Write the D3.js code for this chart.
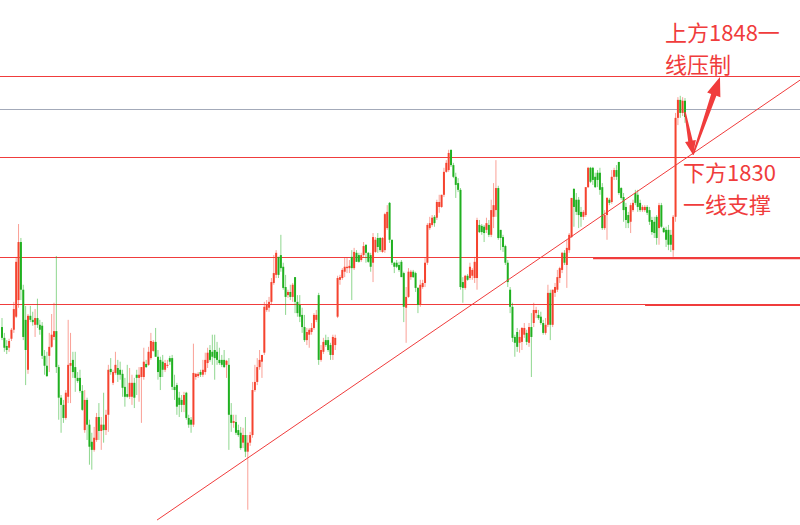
<!DOCTYPE html>
<html><head><meta charset="utf-8">
<script src="https://cdn.jsdelivr.net/npm/d3@7"></script>
<style>html,body{margin:0;padding:0;background:#fff;overflow:hidden}</style>
</head><body><svg id="c" width="800" height="525"></svg>
<script>
const opens = [1792.3,1789.9,1788.1,1787.7,1789.7,1791.7,1794.6,1798.3,1811.2,1800.6,1793.9,1782.8,1794.8,1793.9,1792.8,1794.3,1792.8,1792.6,1785.9,1783.7,1785.9,1787.9,1790.1,1791.4,1783.4,1776.6,1775,1772.1,1776.8,1783.7,1785,1783.4,1781,1781,1778.1,1769.4,1776.1,1770.6,1766.8,1765,1767.2,1772.3,1769.2,1770.6,1769.4,1772.8,1783,
1779.9,1782.1,1783.2,1782.8,1781.9,1779,1777.4,1776.8,1776.8,1779.9,1781.7,1781,1781.2,1781.2,1784.1,1783.9,1785.4,1787,1789,1785.7,1785,1784.6,1782.8,1783.7,1785.4,1785.4,1779,1779.4,1776.6,1776.1,1775,1777.7,1772.1,1771.7,1770.6,1781.2,1781.4,1782.3,1781.7,1782.3,1784.3,1787.2,1786.8,1787.2,1786.8,1785,1785,
1785,1783.9,1783.9,1772.8,1771,1771.2,1769.4,1768.8,1766.6,1768.3,1764.6,1766.6,1768.3,1778.3,1780.1,1783.4,1784.6,1786.6,1796.1,1796.6,1797.9,1802.1,1803.9,1807.9,1808.3,1805.7,1801.2,1799.4,1800.1,1799,1803.4,1797.9,1797.2,1795,1792.3,1789.4,1790.6,1791.2,1792.1,1793.9,1799.4,1785,1786.8,1789.4,1789.4,1788.3,1786.1,1788.3,
1794.6,1802.8,1803.2,1804.6,1805.4,1805.4,1807.9,1805.4,1808.8,1808.3,1807.2,1808.3,1810.6,1808.8,1808.3,1806.6,1809,1812.1,1812.1,1809,1809.4,1814.3,1819.9,1811.7,1806.6,1806.6,1806.1,1806.8,1804.3,1796.6,1799,1803.4,1804.6,1804.3,1801,1797.2,1801.2,1802.1,1806.6,1814.3,1815,1816.8,1816.6,1819,1819,1821.7,1826.8,1827.2,1831.7,1828.3,1825.7,
1824.3,1822.8,1802.3,1801,1803.7,1803.2,1803.7,1803.2,1803.2,1815,1814.8,1814.6,1813.9,1815,1812.8,1816.8,1818.3,1823.2,1813.9,1812.3,1810.3,1806.6,1800.6,1796.8,1790.1,1791.2,1788.8,1789,1790.6,1791,1788.8,1792.3,1793.2,1795.4,1795,1794.6,1793.2,1791,1792.8,1799.9,1792.8,1799.9,1800.6,1803.2,1805,1808.8,1806.1,1809.4,1812.3,
1823,1820.6,1820.6,1817.9,1816.8,1817.2,1823.4,1827.7,1827.7,1825.7,1826.6,1826.6,1823.4,1814.3,1817.2,1820.6,1820.1,1825.7,1827.2,1829,1823.2,1821.2,1819,1817.2,1815.7,1818.3,1822.1,1821.7,1819.9,1818.3,1818.3,1819,1818.3,1816.1,1815.7,1816.8,1814.3,1819.4,1814.3,1813.9,1813.9,1812.8,1809.4,1816.8,1838.8,1842.8,1839.9,1842.6];
const highs = [1794.3,1791,1789.4,1789.7,1792.1,1797.9,1807.9,1815.2,1812.1,1801.7,1797,1795.2,1797,1795.7,1796.3,1798.6,1793.9,1793.4,1787.2,1786.8,1791,1795.2,1797.7,1808.1,1783.9,1777.2,1776.1,1778.3,1793.9,1791,1786.8,1786.8,1782.3,1782.8,1779.4,1778.3,1776.6,1771.7,1768.8,1770.1,1773.2,1775.4,1772.3,1777.7,1773.9,1783.9,1785.4,
1782.8,1786.8,1785,1784.6,1782.8,1781,1783.9,1783.2,1781.7,1781,1782.8,1783.4,1783.4,1787.7,1785,1787.9,1791,1789.4,1792.1,1787.2,1785.7,1786.1,1785,1785,1785.9,1786.1,1781.7,1779.9,1777.9,1777.2,1777.9,1777.9,1772.8,1772.3,1788.6,1782.1,1782.3,1782.8,1785,1786.6,1787.7,1788.3,1790.6,1790.6,1789,1787.7,1786.1,
1787.2,1785,1785.4,1775.4,1772.8,1772.8,1770.6,1770.1,1769.9,1772.3,1768.3,1769,1780.1,1783.9,1785.4,1787.2,1786.1,1797.9,1798.3,1799,1803.2,1808.3,1809.4,1807.9,1812.8,1806.6,1803.9,1800.6,1801.7,1802.1,1803.4,1799.4,1799.4,1796.6,1795,1792.1,1792.1,1793.2,1795.4,1796.1,1799.9,1788.3,1789.9,1790.6,1790.1,1788.8,1790.6,1790.6,
1803.7,1803.9,1805.4,1807.7,1807.7,1807.2,1809.4,1809.9,1809.4,1808.8,1808.8,1811.2,1810.6,1809,1808.8,1813.2,1812.3,1813.2,1812.3,1812.3,1817.7,1819.4,1820.1,1811.7,1806.8,1807.2,1806.8,1807.2,1804.6,1801.2,1805.4,1805,1805,1804.6,1801.2,1802.8,1802.8,1807.7,1815.4,1816.8,1817.2,1817.2,1820.6,1821.7,1821.7,1827.7,1829.4,1831.7,1831.7,1828.8,1826.6,
1825.4,1823.2,1803.4,1803.9,1804.1,1806.6,1805.4,1807.9,1816.6,1816.1,1815.2,1815,1816.6,1816.1,1820.6,1824.3,1829.4,1823.7,1813.9,1812.8,1810.6,1807.2,1801.2,1797.7,1790.6,1792.1,1791.7,1792.3,1793.2,1791.7,1793.2,1795.4,1797.7,1796.8,1796.1,1795.7,1793.9,1794.3,1801.7,1800.6,1800.6,1802.1,1805,1805.7,1809,1809.4,1811.7,1813.2,1821,
1823.2,1822.1,1821.2,1819,1818.3,1823.4,1827.9,1827.9,1827.9,1826.6,1827.2,1827.7,1824.3,1818.3,1821.2,1821,1827.2,1827.7,1828.3,1829,1823.4,1822.1,1819.9,1817.9,1819.9,1820.6,1822.8,1822.8,1820.6,1819.4,1819.4,1819.4,1819,1816.8,1816.8,1817.2,1819.9,1819.9,1814.6,1814.6,1815,1813.9,1817.2,1839.9,1843.4,1843.7,1843.4,1843.2];
const lows = [1789.4,1786.8,1786.3,1786.8,1789.2,1791,1794.3,1796.6,1798.3,1789.4,1779.4,1781.9,1793.4,1792.6,1790.1,1792.1,1790.6,1785.2,1781.7,1781.2,1782.3,1787.7,1789.4,1782.1,1771.7,1768.8,1771,1771.7,1775.4,1775.4,1781,1777.9,1779.9,1777.7,1773.7,1768.8,1767.2,1761.7,1760.6,1764.6,1766.8,1767.2,1765,1766.6,1768.3,1769,1781.7,
1779.4,1781.7,1780.1,1780.6,1776.8,1774.6,1776.6,1776.3,1775,1774.3,1777.2,1775.7,1771,1780.6,1783.2,1783.7,1785,1786.8,1785.7,1780.6,1778.3,1781.2,1782.3,1783.2,1783.9,1778.3,1776.1,1772.8,1772.3,1773.4,1773.4,1771.7,1769.9,1768.8,1770.1,1780.6,1781,1781.2,1781.2,1781.7,1783.2,1784.6,1783.9,1780.6,1783.9,1783.9,1783.4,
1783.2,1781,1765,1769,1769.9,1768.3,1767.9,1765,1765.4,1763.4,1751.7,1765.9,1767.7,1777.9,1779.4,1782.8,1781,1786.1,1795.7,1795.7,1797.4,1801.7,1803.2,1803.2,1804.6,1800.6,1795,1798.8,1798.3,1797.9,1795.4,1794.6,1793.4,1791,1789,1788.3,1787.7,1790.6,1791.7,1793.4,1783.9,1784.6,1786.3,1787.9,1786.8,1785,1785,1787.2,
1794.3,1801.7,1802.8,1803.4,1804.3,1804.3,1798.3,1805,1806.8,1806.6,1806.8,1807.9,1806.6,1806.6,1804.6,1802.3,1808.8,1808.8,1809,1808.8,1808.8,1813.9,1811,1806.1,1804.3,1805.4,1804.6,1803.4,1793.4,1788.8,1798.8,1802.8,1803.2,1800.1,1795.4,1796.8,1800.8,1801.2,1806.1,1813.9,1814.6,1814.6,1816.1,1817.7,1818.8,1821.2,1826.6,1826.8,1827.9,1825.4,1821,
1822.3,1800.6,1797.7,1800.6,1802.6,1802.8,1802.8,1802.1,1800.6,1813.2,1812.8,1811.2,1813.2,1812.3,1812.3,1814.3,1816.8,1811.7,1809.4,1809,1806.1,1801.2,1795.4,1789,1785.7,1786.8,1786.6,1787.2,1789.9,1788.3,1787.9,1781.2,1792.3,1794.3,1793.9,1792.8,1790.6,1790.6,1792.3,1789.4,1792.3,1799,1800.1,1802.1,1804.3,1806.1,1801,1808.8,1812.1,
1814.6,1817.2,1814.3,1814.6,1816.1,1816.8,1823.2,1824.3,1823.9,1823.2,1823.4,1821.7,1813.9,1813.9,1811.7,1819.4,1819.7,1825,1825,1821.7,1820.6,1815.7,1814.3,1814.3,1813.2,1817.9,1819.4,1817.9,1817.9,1817.9,1817.9,1817.2,1815,1812.8,1812.1,1810.6,1810.6,1814.3,1813.2,1810.1,1809.4,1809,1807.9,1815.7,1837.2,1838.8,1839.2,1837.7];
const closes = [1789.9,1787.7,1787.2,1789.2,1791.7,1796.3,1806.8,1811.2,1800.6,1790.1,1787.2,1794.8,1793.9,1793.4,1794.3,1792.8,1791.7,1785.9,1783.7,1781.4,1787.9,1790.6,1791.4,1783.4,1776.6,1775,1772.1,1777.7,1783.9,1784.3,1782.3,1781,1780.3,1778.1,1773.9,1776.1,1770.6,1765.7,1765,1767.7,1772.3,1769.2,1770.6,1769.4,1772.8,1782.8,1782.3,
1782.3,1783.9,1781.7,1781.7,1778.8,1776.8,1776.8,1779.9,1779.9,1776.6,1781,1781.7,1783.4,1784.6,1783.4,1786.8,1789.2,1789,1785.7,1782.3,1781.2,1782.8,1784.3,1783.9,1784.6,1779,1778.3,1774.6,1775,1775,1777.2,1772.1,1770.6,1770.6,1782.1,1781.9,1781.9,1781.7,1782.8,1785,1786.6,1785,1785.7,1785.4,1785,1784.3,1783.9,
1783.4,1784.8,1772.8,1771,1771.4,1768.8,1768.3,1765.4,1768.3,1764.6,1766.6,1768.3,1778.3,1780.1,1783.4,1785,1786.1,1796.8,1797.2,1797.9,1802.3,1804.3,1808.8,1803.9,1805.4,1801,1799,1800.1,1799,1801.7,1797.9,1795.4,1794.6,1792.3,1789.4,1791.2,1791.7,1792.1,1795,1795,1785,1787.2,1789,1788.3,1787.2,1786.1,1790.1,1789.9,
1803.2,1803.4,1805,1805.7,1805.7,1805.9,1805.4,1809,1806.8,1806.8,1808.3,1810.3,1808.8,1806.8,1805.7,1812.3,1811.7,1810.1,1809.4,1812.1,1817.4,1817.9,1811.7,1806.6,1805.7,1805.7,1805,1803.4,1796.8,1799,1804.6,1804.6,1803.4,1801,1797.2,1801.7,1802.1,1806.6,1815,1815.4,1816.6,1815.4,1820.1,1820.1,1821.7,1826.8,1828.8,1831,1828.3,1825.7,1823.9,
1822.8,1801.2,1801,1803.7,1802.8,1805.7,1805,1806.8,1816.1,1813.4,1813.4,1813.2,1815.4,1812.8,1818.3,1819.4,1823.2,1812.1,1812.1,1810.1,1806.6,1802.3,1796.8,1789.9,1788.8,1787.9,1790.1,1792.1,1792.1,1789,1792.3,1790.1,1796.1,1796.1,1794.3,1793.2,1791,1792.8,1799.9,1792.8,1800.6,1801.2,1803.4,1805.4,1808.8,1806.6,1809.9,1812.8,1821,
1819,1817.9,1817.2,1816.8,1817.9,1823.4,1827.7,1824.6,1825,1823.4,1825,1822.8,1814.3,1817.2,1821,1819.9,1825.7,1827.2,1825.7,1822.1,1821,1818.3,1816.1,1815.4,1819.4,1819.9,1819.9,1819,1818.3,1819,1819,1817.7,1815.7,1813.4,1813.2,1812.1,1819.4,1814.6,1813.4,1811.7,1810.6,1810.6,1816.8,1838.8,1842.8,1839.9,1842.6,1839];

// horizontal price levels (full width)
const levels = [1848, 1840.8, 1830, 1807.9, 1797.4];
// hand-drawn thicker marks: [start index, end index, price]
const markStarts = [250.1, 272.1];
const markEnds = [337.7, 337.7];
const markPrices = [1807.6, 1797.2];
// trend line: [index, price]
const trendPoints = [[65.6, 1749.4], [337.7, 1847.2]];
// arrow path points: [index, price]
const arrowPoints = [[289, 1840.1], [292.4, 1830.6], [303.8, 1847.9]];
const labelsTop = ["上方1848一", "线压制"];
const labelsBottom = ["下方1830", "一线支撑"];

const W = 800, H = 525, N = opens.length;
const svg = d3.select("#c");
const x = d3.scaleLinear().domain([0, N - 1]).range([2, 685]);
const y = d3.scaleLinear().domain([1748.3, 1865]).range([H, 0]);

const UP = "#f5432f", DOWN = "#20b020", LINE = "#f03c3c";

const data = d3.range(N).map(i => ({i, o: opens[i], h: highs[i], l: lows[i], c: closes[i]}));

// levels
svg.append("g").selectAll("line").data(levels).join("line")
  .attr("x1", 0).attr("x2", W)
  .attr("y1", d => Math.round(y(d)) + 0.5).attr("y2", d => Math.round(y(d)) + 0.5)
  .attr("stroke", (d, k) => k === 1 ? "#a3aab9" : LINE)
  .attr("stroke-width", 1);

// thick hand marks
svg.append("g").selectAll("line").data(markPrices).join("line")
  .attr("x1", (d, k) => x(markStarts[k])).attr("x2", (d, k) => x(markEnds[k]))
  .attr("y1", d => y(d)).attr("y2", d => y(d))
  .attr("stroke", LINE).attr("stroke-width", 2.2);

// candles
const g = svg.append("g");
g.selectAll("line.wick").data(data).join("line").attr("class", "wick")
  .attr("x1", d => x(d.i)).attr("x2", d => x(d.i))
  .attr("y1", d => y(Math.max(d.h, d.o, d.c))).attr("y2", d => y(Math.min(d.l, d.o, d.c)))
  .attr("stroke", d => d.c >= d.o ? UP : DOWN)
  .attr("stroke-opacity", 0.5).attr("stroke-width", 1);
g.selectAll("rect").data(data).join("rect")
  .attr("x", d => x(d.i) - 1).attr("width", 2)
  .attr("y", d => y(Math.max(d.o, d.c)))
  .attr("height", d => Math.max(1, Math.abs(y(d.o) - y(d.c))))
  .attr("fill", d => d.c >= d.o ? UP : DOWN);

// trend line
svg.append("line")
  .attr("x1", x(trendPoints[0][0])).attr("y1", y(trendPoints[0][1]))
  .attr("x2", x(trendPoints[1][0])).attr("y2", y(trendPoints[1][1]))
  .attr("stroke", LINE).attr("stroke-width", 1);

// arrows
function arrowPath(p0, p1, w0, w1, headLen, headW) {
  const dx = p1[0] - p0[0], dy = p1[1] - p0[1];
  const len = Math.hypot(dx, dy), ux = dx / len, uy = dy / len;
  const nx = -uy, ny = ux;
  const bx = p1[0] - ux * headLen, by = p1[1] - uy * headLen;
  const pts = [
    [p0[0] + nx * w0 / 2, p0[1] + ny * w0 / 2],
    [bx + nx * w1 / 2, by + ny * w1 / 2],
    [bx + nx * headW / 2, by + ny * headW / 2],
    [p1[0], p1[1]],
    [bx - nx * headW / 2, by - ny * headW / 2],
    [bx - nx * w1 / 2, by - ny * w1 / 2],
    [p0[0] - nx * w0 / 2, p0[1] - ny * w0 / 2]
  ];
  return "M" + pts.map(p => p.join(",")).join("L") + "Z";
}
const ap = arrowPoints.map(p => [x(p[0]), y(p[1])]);
svg.append("path").attr("d", arrowPath(ap[0], ap[1], 1.5, 4.5, 14, 11)).attr("fill", LINE);
svg.append("path").attr("d", arrowPath(ap[1], ap[2], 1.5, 5.5, 19, 14)).attr("fill", LINE);

// labels
const font = "'Noto Sans CJK SC','Noto Sans',sans-serif";
function block(lines, x0, y0, dy) {
  svg.append("g").selectAll("text").data(lines).join("text")
    .attr("font-family", font).attr("font-size", 22).attr("fill", LINE)
    .attr("x", x0).attr("y", (d, k) => y0 + k * dy)
    .text(d => d);
}
block(labelsTop, 665, 41, 32.2);
block(labelsBottom, 683, 180.5, 32.2);
</script>
</body></html>
